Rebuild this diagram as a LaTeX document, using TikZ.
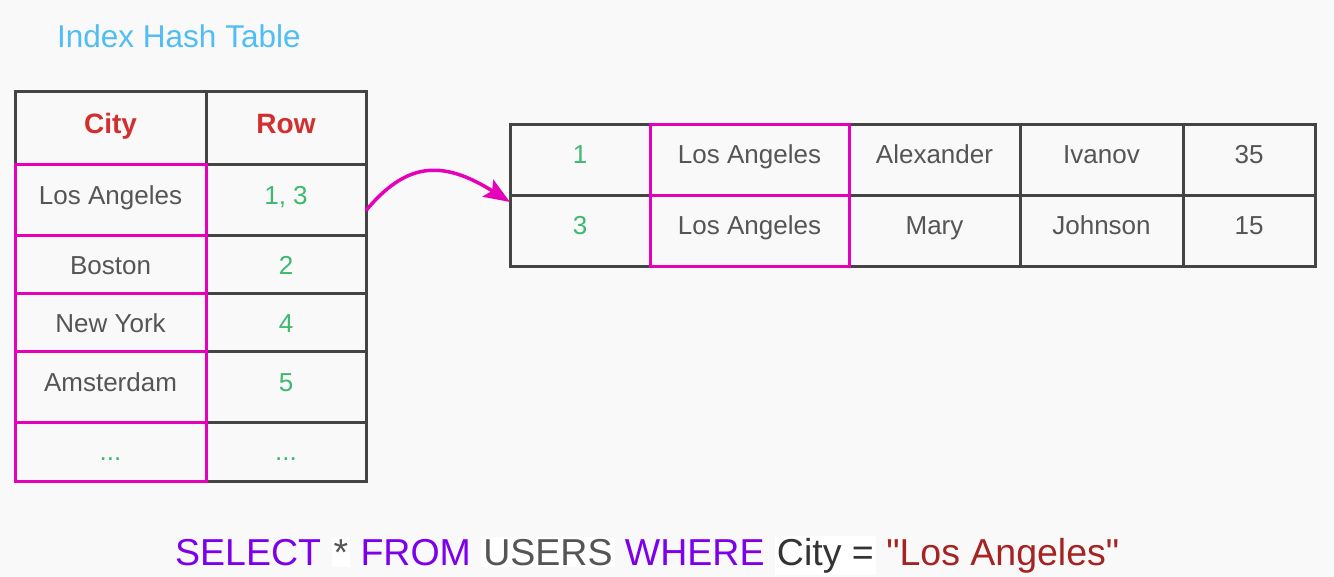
\documentclass[tikz,border=0pt]{standalone}
\usepackage{fontspec}
\setmainfont{Liberation Sans}
\newfontfamily\queryfont{Liberation Sans}
\usetikzlibrary{arrows.meta}
\definecolor{bg}{RGB}{249,249,249}
\definecolor{grid}{RGB}{68,68,68}
\definecolor{hl}{RGB}{230,0,185}
\definecolor{head}{RGB}{211,47,47}
\definecolor{num}{RGB}{60,185,110}
\definecolor{txt}{RGB}{85,85,85}
\definecolor{title}{RGB}{80,190,245}
\definecolor{kw}{RGB}{125,0,235}
\definecolor{strc}{RGB}{165,35,35}
\tikzset{
  x=1pt, y=-1pt,
  cell/.style={draw=grid, line width=3pt, inner sep=0pt, outer sep=0pt, anchor=north west,
    font=\fontsize{26}{26}\selectfont, text=txt,
    text height=18.6pt, text depth=0pt},
  lift/.style={text depth=#1pt},
  numtxt/.style={text=num},
  headtxt/.style={text=head, font=\fontsize{28}{28}\selectfont\bfseries, text height=20pt},
}
\begin{document}
\begin{tikzpicture}
\useasboundingbox[fill=bg] (0,0) rectangle (1334,577);

% title
\node[anchor=west, inner sep=0pt, text=title, font=\fontsize{31.5}{31.5}\selectfont] (title) at (57,36) {Index Hash Table};

% index table
\node[cell, minimum width=191pt, minimum height=73pt, headtxt, lift=9] (hcity) at (15,92) {City};
\node[cell, minimum width=160pt, minimum height=73pt, headtxt, lift=9] (hrow) at (206,92) {Row};
\node[cell, minimum width=191pt, minimum height=71pt, lift=11] (c1) at (15,165) {Los Angeles};
\node[cell, minimum width=160pt, minimum height=71pt, numtxt, lift=11] (r1) at (206,165) {1, 3};
\node[cell, minimum width=191pt, minimum height=58pt] (c2) at (15,236) {Boston};
\node[cell, minimum width=160pt, minimum height=58pt, numtxt] (r2) at (206,236) {2};
\node[cell, minimum width=191pt, minimum height=58pt] (c3) at (15,294) {New York};
\node[cell, minimum width=160pt, minimum height=58pt, numtxt] (r3) at (206,294) {4};
\node[cell, minimum width=191pt, minimum height=70pt, lift=10] (c4) at (15,352) {Amsterdam};
\node[cell, minimum width=160pt, minimum height=70pt, numtxt, lift=10] (r4) at (206,352) {5};
\node[cell, minimum width=191pt, minimum height=59pt, numtxt] (c5) at (15,422) {...};
\node[cell, minimum width=160pt, minimum height=59pt, numtxt] (r5) at (206,422) {...};

% highlighted key column
\foreach \n in {c1,c2,c3,c4,c5}
  \draw[hl, line width=3pt] (\n.north west) rectangle (\n.south east);

% users table
\node[cell, minimum width=140pt, minimum height=71pt, numtxt, lift=13] (u11) at (510,125) {1};
\node[cell, minimum width=199pt, minimum height=71pt, lift=13] (u12) at (650,125) {Los Angeles};
\node[cell, minimum width=171pt, minimum height=71pt, lift=13] (u13) at (849,125) {Alexander};
\node[cell, minimum width=163pt, minimum height=71pt, lift=13] (u14) at (1020,125) {Ivanov};
\node[cell, minimum width=132pt, minimum height=71pt, lift=13] (u15) at (1183,125) {35};
\node[cell, minimum width=140pt, minimum height=71pt, numtxt, lift=13] (u21) at (510,196) {3};
\node[cell, minimum width=199pt, minimum height=71pt, lift=13] (u22) at (650,196) {Los Angeles};
\node[cell, minimum width=171pt, minimum height=71pt, lift=13] (u23) at (849,196) {Mary};
\node[cell, minimum width=163pt, minimum height=71pt, lift=13] (u24) at (1020,196) {Johnson};
\node[cell, minimum width=132pt, minimum height=71pt, lift=13] (u25) at (1183,196) {15};
\foreach \n in {u12,u22}
  \draw[hl, line width=3pt] (\n.north west) rectangle (\n.south east);

% lookup arrow
\draw[hl, line width=3.5pt, -{Stealth[length=26pt, width=20pt, inset=5pt]}]
  ([yshift=-10pt]r1.east) .. controls (405,164) and (440,158) .. ([yshift=-6pt]u21.north west);

% query
\node[anchor=base west, inner sep=0pt, font=\queryfont\fontsize{37.5}{37.5}\selectfont] (sql) at (175,565)
  {\setlength{\fboxsep}{2pt}\textcolor{kw}{SELECT} \colorbox{white}{\textcolor{txt}{*}} \textcolor{kw}{FROM} \colorbox{white}{\textcolor{txt}{USERS}} \textcolor{kw}{WHERE} \colorbox{white}{\textcolor{black!80}{City =}} \textcolor{strc}{"Los Angeles"}};
\end{tikzpicture}
\end{document}
